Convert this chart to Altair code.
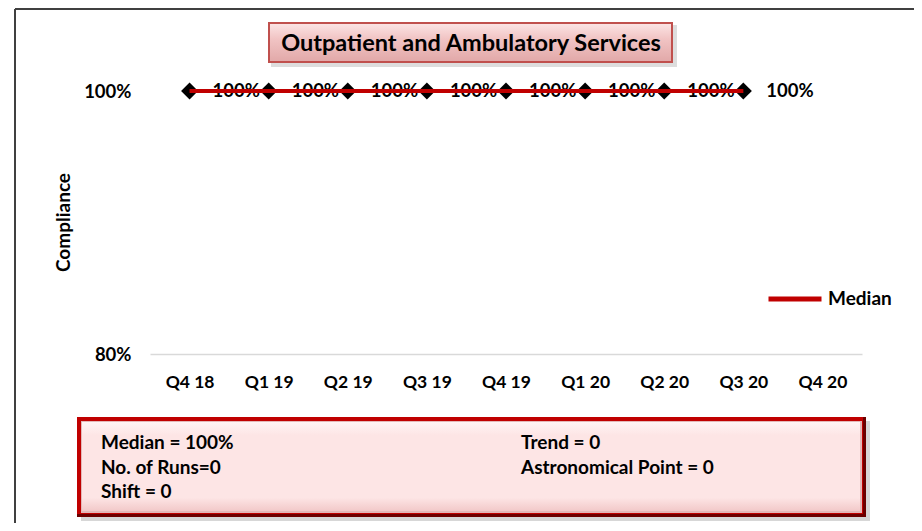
import altair as alt
import pandas as pd

quarters = ["Q4 18", "Q1 19", "Q2 19", "Q3 19", "Q4 19", "Q1 20", "Q2 20", "Q3 20", "Q4 20"]
compliance = [1.0, 1.0, 1.0, 1.0, 1.0, 1.0, 1.0, 1.0, None]
median = [1.0, 1.0, 1.0, 1.0, 1.0, 1.0, 1.0, 1.0, None]
y_ticks = [0.8, 1.0]
title_text = "Outpatient and Ambulatory Services"
stats_left = ["Median = 100%", "No. of Runs=0", "Shift = 0"]
stats_right = ["Trend = 0", "Astronomical Point = 0"]

FONT = "Lato"
W, H = 712, 263
PL, PT = 142, 83

df = pd.DataFrame({"quarter": quarters, "compliance": compliance, "median": median,
                   "series": ["Median"] * len(quarters)})
one = pd.DataFrame({"a": [0]})

xenc = alt.X("quarter:O", sort=quarters, scale=alt.Scale(domain=quarters),
             axis=alt.Axis(title=None, labelAngle=0, labelFontSize=17.5, labelFont=FONT,
                           labelFontWeight="bold", labelColor="#000", labelPadding=19,
                           ticks=False, domainColor="#d9d9d9", domainWidth=1.5, grid=False))
yscale = alt.Scale(domain=[0.8, 1.0], nice=False, zero=False)
yenc = alt.Y("compliance:Q", scale=yscale,
             axis=alt.Axis(values=y_ticks, format=".0%", title="Compliance", titleFont=FONT,
                           titleFontSize=19, titleFontWeight="bold", titleColor="#000",
                           titleX=-87, titleY=131, titleAngle=270, titleBaseline="middle",
                           titleAlign="center",
                           labelFontSize=18.5, labelFont=FONT, labelFontWeight="bold",
                           labelColor="#000", labelPadding=19, ticks=False, domain=False,
                           grid=False))

base = alt.Chart(df)
points = base.mark_point(shape="diamond", filled=True, color="#000", size=290, opacity=1).encode(x=xenc, y=yenc)
labels = base.mark_text(align="left", baseline="middle", dx=23, fontSize=18.5, font=FONT,
                        fontWeight="bold", color="#000").encode(
    x=alt.X("quarter:O", sort=quarters), y=alt.Y("compliance:Q", scale=yscale),
    text=alt.Text("compliance:Q", format=".0%"))
med = base.mark_line(strokeWidth=4).encode(
    x=alt.X("quarter:O", sort=quarters),
    y=alt.Y("median:Q", scale=yscale),
    color=alt.Color("series:N", scale=alt.Scale(domain=["Median"], range=["#c00000"]),
                    legend=alt.Legend(orient="none", legendX=616, legendY=179, title=None,
                                      symbolType="stroke", symbolSize=2809,
                                      symbolStrokeWidth=5, labelFontSize=19, labelFont=FONT,
                                      labelFontWeight="bold", labelColor="#000",
                                      labelOffset=4)))

def rect(x1, y1, x2, y2, **kw):
    return alt.Chart(one).mark_rect(**kw).encode(
        x=alt.value(x1 - 150), x2=alt.value(x2 - 150),
        y=alt.value(y1 - 91), y2=alt.value(y2 - 91))

def txt(s, x, y, size=15, align="left"):
    return alt.Chart(pd.DataFrame({"t": [s]})).mark_text(
        align=align, baseline="middle", fontSize=size, font=FONT, fontWeight="bold",
        color="#000").encode(x=alt.value(x - 150), y=alt.value(y - 91), text="t:N")

# frame lines
frame = [
    alt.Chart(one).mark_rule(color="#404040", strokeWidth=2).encode(
        x=alt.value(15 - 150), x2=alt.value(922 - 150), y=alt.value(9 - 91)),
    alt.Chart(one).mark_rule(color="#404040", strokeWidth=2).encode(
        x=alt.value(15 - 150), y=alt.value(9 - 91), y2=alt.value(531 - 91)),
]

title_grad = alt.LinearGradient(gradient="linear", x1=0, x2=0, y1=0, y2=1, stops=[
    alt.GradientStop(color="#fbe3e3", offset=0),
    alt.GradientStop(color="#f1c4c4", offset=0.4),
    alt.GradientStop(color="#e2a9a9", offset=1)])
title_box = [
    rect(271, 25, 677, 67, color="#bbbbbb", opacity=0.5),
    rect(268, 22, 673, 63, color="#c0504d"),
    rect(270, 24, 671, 61, fill=title_grad),
    txt(title_text, 471, 44, size=23.5, align="center"),
]

stats_grad = alt.LinearGradient(gradient="linear", x1=0, x2=0, y1=0, y2=1, stops=[
    alt.GradientStop(color="#fff4f4", offset=0),
    alt.GradientStop(color="#fde5e5", offset=0.15),
    alt.GradientStop(color="#fde5e5", offset=0.85),
    alt.GradientStop(color="#f2c9c9", offset=1)])
stats_box = [
    rect(81, 421, 870, 521, color="#9a9a9a", opacity=0.4),
    rect(77, 417, 866, 517, color="#6b0000"),
    rect(77, 417, 863, 514, color="#c00000"),
    rect(81, 421, 862, 513, color="#e3b8b8"),
    rect(82, 422, 860, 511, fill=stats_grad),
]
stats_text = []
for i, s in enumerate(stats_left):
    stats_text.append(txt(s, 101, 443 + i * 24.5, size=19))
for i, s in enumerate(stats_right):
    stats_text.append(txt(s, 521, 443 + i * 24.5, size=19))

chart = alt.layer(*frame, *title_box, *stats_box, *stats_text, points, labels, med).properties(
    width=W, height=H, padding={"left": PL, "top": PT, "right": 52, "bottom": 169},
    autosize="none", background="white"
).configure_view(stroke=None)

chart.save("out.html", embed_options={"renderer": "svg", "actions": False})
